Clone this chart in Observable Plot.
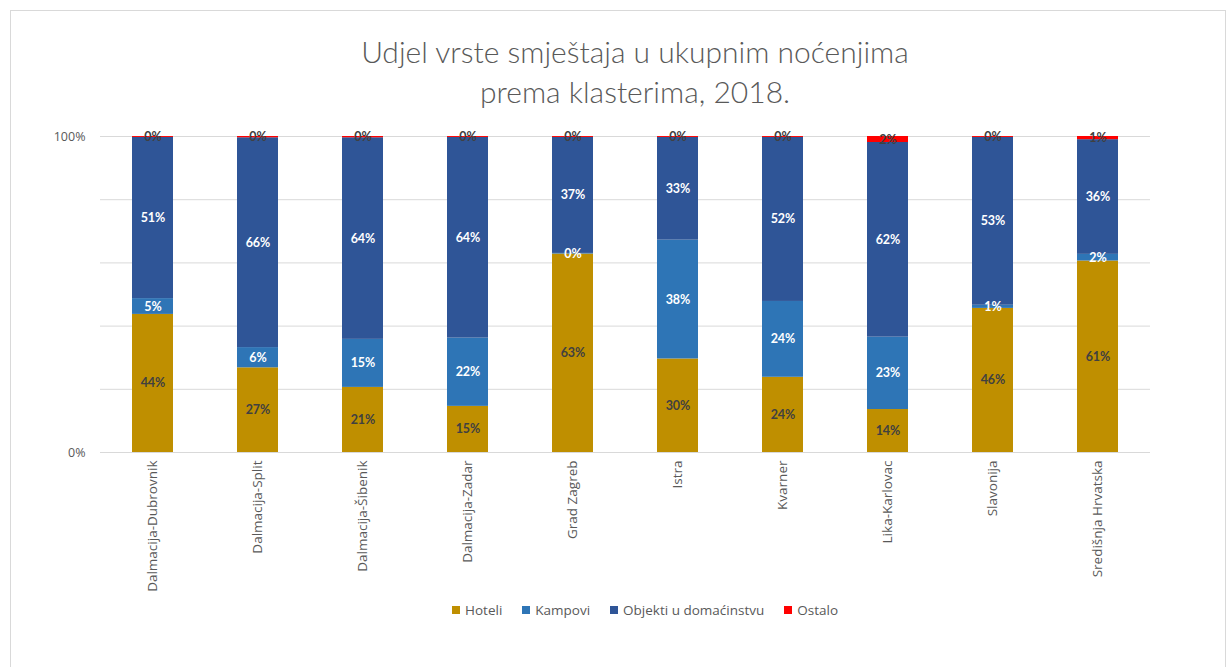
<!DOCTYPE html>
<html><head><meta charset="utf-8">
<script src="https://cdn.jsdelivr.net/npm/d3@7"></script>
<script src="https://cdn.jsdelivr.net/npm/@observablehq/plot@0.6"></script>
<style>
body{margin:0;background:#fff;font-family:Lato,"Open Sans",sans-serif;}
#frame{position:absolute;left:10px;top:10px;width:1216px;height:700px;border:1px solid #d9d9d9;box-sizing:border-box;}
#title{position:absolute;left:0;top:31px;width:1270px;text-align:center;font-size:30px;line-height:40px;color:#595959;font-weight:300;}
#chart{position:absolute;left:0;top:120px;}
#legend{position:absolute;left:452px;top:601px;display:flex;gap:20px;font-family:"Open Sans",sans-serif;font-size:13.5px;color:#595959;align-items:center;}
#legend span.item{display:flex;align-items:center;gap:5px;}
#legend span.sw{display:inline-block;width:8px;height:8px;}
</style></head>
<body>
<div id="frame"></div>
<div id="title">Udjel vrste smještaja u ukupnim noćenjima<br>prema klasterima, 2018.</div>
<div id="chart"></div>
<div id="legend"></div>
<script>
const categories = ["Dalmacija-Dubrovnik","Dalmacija-Split","Dalmacija-Šibenik","Dalmacija-Zadar","Grad Zagreb","Istra","Kvarner","Lika-Karlovac","Slavonija","Središnja Hrvatska"];
const seriesNames = ["Hoteli","Kampovi","Objekti u domaćinstvu","Ostalo"];
const seriesColors = ["#BF8F00","#2E75B6","#2F5597","#FF0000"];
const hoteli  = [43.7, 26.8, 20.6, 14.6, 62.8, 29.6, 23.8, 13.6, 45.6, 60.6];
const kampovi = [ 5.0,  6.4, 15.2, 21.6,  0.2, 37.6, 24.0, 22.9,  1.0,  2.1];
const objekti = [51.0, 66.4, 63.8, 63.5, 36.7, 32.5, 51.9, 61.6, 53.1, 36.3];
const ostalo  = [ 0.3,  0.4,  0.4,  0.3,  0.3,  0.3,  0.3,  1.9,  0.3,  1.0];
const yTicks = [0, 100];
const yGrid = [0, 20, 40, 60, 80, 100];

const seriesValues = [hoteli, kampovi, objekti, ostalo];
const data = categories.flatMap((c, i) => seriesNames.map((s, j) => ({cluster: c, type: s, value: seriesValues[j][i]})));
const darkLabel = new Set(["Hoteli", "Ostalo"]);
const fmt = v => Math.round(v) + "%";

const chart = Plot.plot({
  width: 1228,
  height: 480,
  marginTop: 16,
  marginBottom: 148,
  marginLeft: 100,
  marginRight: 78,
  style: {fontFamily: "'Open Sans', sans-serif", background: "transparent"},
  x: {domain: categories, paddingInner: 0.61, paddingOuter: 0.305, label: null},
  y: {domain: [0, 100], label: null},
  color: {domain: seriesNames, range: seriesColors},
  marks: [
    Plot.gridY(yGrid, {stroke: "#d9d9d9", strokeOpacity: 1}),
    Plot.barY(data, {x: "cluster", y: "value", fill: "type", z: "type"}),
    Plot.text(data, Plot.stackY({x: "cluster", y: "value", z: "type",
      text: d => darkLabel.has(d.type) ? fmt(d.value) : "",
      fill: "#404040", fontWeight: "bold", fontSize: 12.5, fontFamily: "Lato, sans-serif"})),
    Plot.text(data, Plot.stackY({x: "cluster", y: "value", z: "type",
      text: d => darkLabel.has(d.type) ? "" : fmt(d.value),
      fill: "#ffffff", fontWeight: "bold", fontSize: 12.5, fontFamily: "Lato, sans-serif"})),
    Plot.axisY({ticks: yTicks, tickFormat: d => d + "%", tickSize: 0, tickPadding: 15, fontSize: 12.5, color: "#595959", label: null}),
    Plot.axisX({tickRotate: -90, tickSize: 0, tickPadding: 8, fontSize: 13.5, color: "#595959", label: null})
  ]
});
document.getElementById("chart").appendChild(chart);

const legend = document.getElementById("legend");
seriesNames.forEach((s, i) => {
  const item = document.createElement("span");
  item.className = "item";
  const sw = document.createElement("span");
  sw.className = "sw";
  sw.style.background = seriesColors[i];
  const t = document.createElement("span");
  t.textContent = s;
  item.appendChild(sw); item.appendChild(t);
  legend.appendChild(item);
});
</script>
</body></html>
